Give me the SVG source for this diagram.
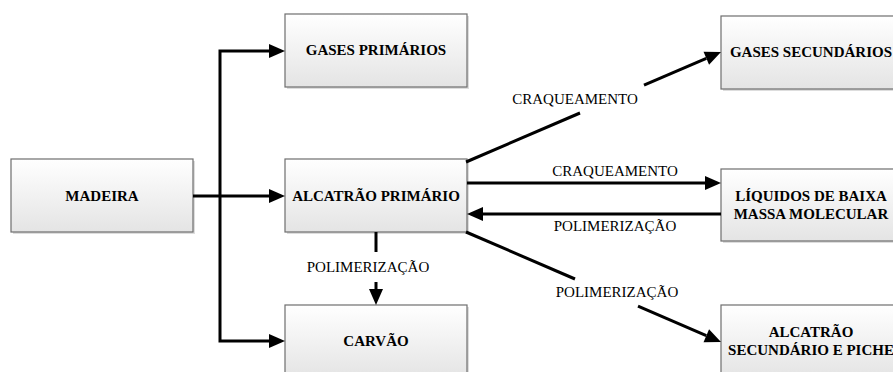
<svg xmlns="http://www.w3.org/2000/svg" width="893" height="372" viewBox="0 0 893 372">
<defs>
<linearGradient id="g" x1="0" y1="0" x2="0" y2="1">
<stop offset="0" stop-color="#ffffff"/>
<stop offset="1" stop-color="#e4e4e4"/>
</linearGradient>
<marker id="ah" markerUnits="userSpaceOnUse" markerWidth="16" markerHeight="14" refX="0" refY="7" orient="auto" overflow="visible">
<path d="M0,0 L16,7 L0,14 z" fill="#000"/>
</marker>
<style>
.box{fill:url(#g);stroke:#6e6e6e;stroke-width:1.2}
.sh{fill:#cfcfcf;opacity:0.7}
.nt{font-weight:bold;font-size:15px;fill:#000;text-anchor:middle}
.lb{font-size:15px;fill:#000;text-anchor:middle}
.c{fill:none;stroke:#000;stroke-width:3}
.ca{fill:none;stroke:#000;stroke-width:3;marker-end:url(#ah)}
</style>
</defs>
<rect width="893" height="372" fill="#fff"/>
<g font-family="Liberation Serif, Times New Roman, serif">
<g id="madeira">
<rect class="sh" x="13" y="161" width="182" height="73"/>
<rect class="box" x="11" y="159" width="182" height="73"/>
<text class="nt" x="102" y="201">MADEIRA</text>
</g>
<g id="gases-primarios">
<rect class="sh" x="287" y="16" width="182" height="73"/>
<rect class="box" x="285" y="14" width="182" height="73"/>
<text class="nt" x="376" y="55">GASES PRIMÁRIOS</text>
</g>
<g id="alcatrao-primario">
<rect class="sh" x="287" y="161" width="182" height="73"/>
<rect class="box" x="285" y="159" width="182" height="73"/>
<text class="nt" x="376" y="201">ALCATRÃO PRIMÁRIO</text>
</g>
<g id="carvao">
<rect class="sh" x="287" y="307" width="182" height="73"/>
<rect class="box" x="285" y="305" width="182" height="73"/>
<text class="nt" x="376" y="346">CARVÃO</text>
</g>
<g id="gases-secundarios">
<rect class="sh" x="723" y="18" width="182" height="73"/>
<rect class="box" x="721" y="16" width="182" height="73"/>
<text class="nt" x="811" y="57">GASES SECUNDÁRIOS</text>
</g>
<g id="liquidos">
<rect class="sh" x="723" y="171" width="182" height="72"/>
<rect class="box" x="721" y="169" width="182" height="72"/>
<text class="nt" x="811" y="201">LÍQUIDOS DE BAIXA</text>
<text class="nt" x="811" y="219">MASSA MOLECULAR</text>
</g>
<g id="alcatrao-secundario">
<rect class="sh" x="723" y="307" width="182" height="73"/>
<rect class="box" x="721" y="305" width="182" height="73"/>
<text class="nt" x="811" y="337">ALCATRÃO</text>
<text class="nt" x="811" y="355">SECUNDÁRIO E PICHE</text>
</g>
<g id="connectors">
<path class="ca" d="M193,196 H269"/>
<path class="ca" d="M220,197 V51 H269"/>
<path class="ca" d="M220,195 V341 H269"/>
<path class="ca" d="M467,183 H705"/>
<path class="ca" d="M721,214 H483"/>
<path class="c" d="M466,162 L580,113"/>
<path class="ca" d="M644,85.2 L706.3,58.3"/>
<path class="c" d="M466,232 L575,279"/>
<path class="ca" d="M638,306.2 L706.3,335.7"/>
<path class="c" d="M376,232 V252"/>
<path class="ca" d="M376,282 V289"/>
<text class="lb" x="575" y="104">CRAQUEAMENTO</text>
<text class="lb" x="615" y="176">CRAQUEAMENTO</text>
<text class="lb" x="615" y="231">POLIMERIZAÇÃO</text>
<text class="lb" x="617" y="297">POLIMERIZAÇÃO</text>
<text class="lb" x="368" y="272">POLIMERIZAÇÃO</text>
</g>
</g>
</svg>
